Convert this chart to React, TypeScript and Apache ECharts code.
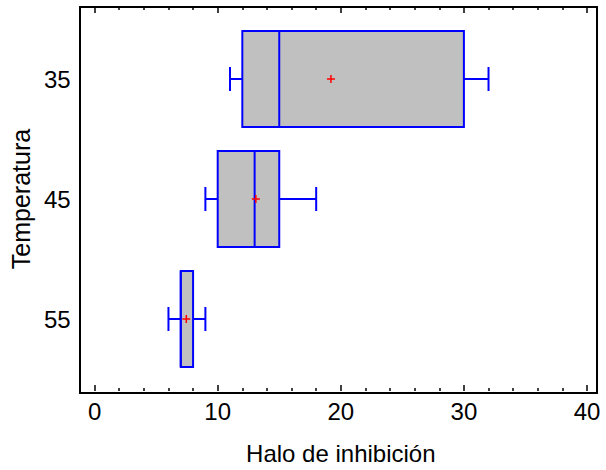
import React, { useEffect, useRef } from "react";
import * as echarts from "echarts";

// Box-and-whisker summary of inhibition halo per temperature
const temperatures = [35, 45, 55];
const whiskerLow = [11, 9, 6];
const q1 = [12, 10, 7];
const medians = [15, 13, 7];
const q3 = [30, 15, 8];
const whiskerHigh = [32, 18, 9];
const means = [19.2, 13.1, 7.45];

const FONT = "'Liberation Sans', Arial, sans-serif";
const BLUE = "#0000FF";
const BOX_FILL = "#C0C0C0";
const MEAN_RED = "#FF0000";

export default function App() {
  const ref = useRef<HTMLDivElement | null>(null);

  useEffect(() => {
    if (!ref.current) return;
    const chart = echarts.init(ref.current, undefined, { renderer: "svg" });

    const data = temperatures.map((t, i) => [
      t,
      whiskerLow[i],
      q1[i],
      medians[i],
      q3[i],
      whiskerHigh[i],
      means[i],
    ]);

    const renderItem = (params: any, api: any) => {
      const y = api.value(0);
      const pLo = api.coord([api.value(1), y]);
      const pQ1 = api.coord([api.value(2), y]);
      const pMed = api.coord([api.value(3), y]);
      const pQ3 = api.coord([api.value(4), y]);
      const pHi = api.coord([api.value(5), y]);
      const pMean = api.coord([api.value(6), y]);
      const boxHalf = Math.abs(api.size([0, 4])[1]);
      const capHalf = Math.abs(api.size([0, 1])[1]);
      const cy = pQ1[1];
      const lineStyle = { stroke: BLUE, lineWidth: 2 };
      const m = 4;

      return {
        type: "group",
        children: [
          { type: "line", shape: { x1: pLo[0], y1: cy, x2: pQ1[0], y2: cy }, style: lineStyle },
          { type: "line", shape: { x1: pQ3[0], y1: cy, x2: pHi[0], y2: cy }, style: lineStyle },
          { type: "line", shape: { x1: pLo[0], y1: cy - capHalf, x2: pLo[0], y2: cy + capHalf }, style: lineStyle },
          { type: "line", shape: { x1: pHi[0], y1: cy - capHalf, x2: pHi[0], y2: cy + capHalf }, style: lineStyle },
          {
            type: "rect",
            shape: { x: pQ1[0], y: cy - boxHalf, width: pQ3[0] - pQ1[0], height: boxHalf * 2 },
            style: { fill: BOX_FILL, stroke: BLUE, lineWidth: 2 },
          },
          { type: "line", shape: { x1: pMed[0], y1: cy - boxHalf, x2: pMed[0], y2: cy + boxHalf }, style: lineStyle },
          { type: "line", shape: { x1: pMean[0] - m, y1: cy, x2: pMean[0] + m, y2: cy }, style: { stroke: MEAN_RED, lineWidth: 1.5 } },
          { type: "line", shape: { x1: pMean[0], y1: cy - m, x2: pMean[0], y2: cy + m }, style: { stroke: MEAN_RED, lineWidth: 1.5 } },
        ],
      };
    };

    const tickStyle = { color: "#000", width: 1.5 };

    chart.setOption({
      animation: false,
      backgroundColor: "#fff",
      grid: [
        {
          left: 80,
          top: 7,
          width: 517,
          height: 386,
          show: true,
          borderColor: "#000",
          borderWidth: 2,
          backgroundColor: "transparent",
        },
        { left: 94, top: 7, width: 493, height: 386 },
      ],
      xAxis: [
        { gridIndex: 0, type: "value", show: false, min: 0, max: 1 },
        {
          gridIndex: 1,
          type: "value",
          position: "bottom",
          min: 0,
          max: 40,
          interval: 10,
          axisLine: { show: false },
          axisTick: { inside: true, length: 6, lineStyle: tickStyle },
          minorTick: { show: true, splitNumber: 5, length: 3, lineStyle: tickStyle },
          splitLine: { show: false },
          axisLabel: { margin: 8, fontSize: 24, color: "#000", fontFamily: FONT },
          name: "Halo de inhibición",
          nameLocation: "middle",
          nameGap: 50,
          nameTextStyle: { fontSize: 24, color: "#000", fontFamily: FONT },
        },
        {
          gridIndex: 1,
          type: "value",
          position: "top",
          min: 0,
          max: 40,
          interval: 10,
          axisLine: { show: false },
          axisTick: { inside: true, length: 6, lineStyle: tickStyle },
          minorTick: { show: true, splitNumber: 5, length: 3, lineStyle: tickStyle },
          splitLine: { show: false },
          axisLabel: { show: false },
        },
      ],
      yAxis: [
        { gridIndex: 0, type: "value", show: false, min: 0, max: 1 },
        {
          gridIndex: 1,
          type: "value",
          inverse: true,
          min: 29,
          max: 61,
          interval: 1,
          axisLine: { show: false },
          axisTick: { show: false },
          splitLine: { show: false },
          axisLabel: {
            margin: 24,
            fontSize: 24,
            color: "#000",
            fontFamily: FONT,
            formatter: (v: number) => (temperatures.includes(v) ? String(v) : ""),
          },
          name: "Temperatura",
          nameLocation: "middle",
          nameGap: 58,
          nameRotate: 90,
          nameTextStyle: { fontSize: 25, color: "#000", fontFamily: FONT },
        },
      ],
      series: [
        {
          type: "custom",
          xAxisIndex: 1,
          yAxisIndex: 1,
          renderItem,
          data,
          encode: { x: [1, 2, 3, 4, 5, 6], y: 0 },
        },
      ],
    });

    return () => chart.dispose();
  }, []);

  return (
    <div
      ref={ref}
      style={{ position: "fixed", left: 0, top: 0, width: 606, height: 470 }}
    />
  );
}
